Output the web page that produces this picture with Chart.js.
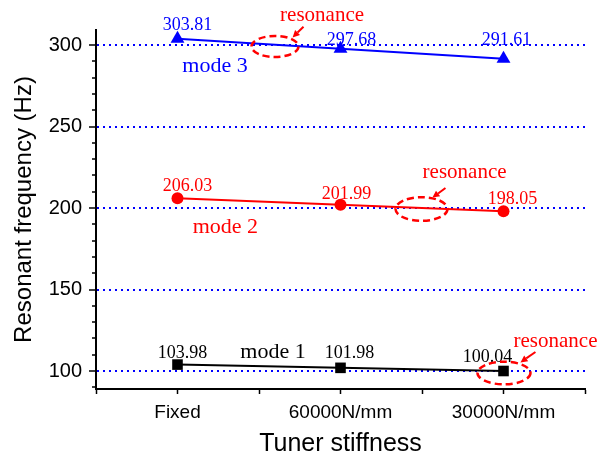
<!DOCTYPE html>
<html><head><meta charset="utf-8">
<script src="https://cdn.jsdelivr.net/npm/chart.js@4/dist/chart.umd.min.js"></script>
<style>html,body{margin:0;padding:0;background:#fff}#wrap{width:604px;height:457px;position:relative}</style>
</head><body><div id="wrap"><canvas id="c"></canvas></div>
<script>
// ---- data ----
const categories = ['Fixed', '60000N/mm', '30000N/mm'];
const mode1 = [103.98, 101.98, 100.04];
const mode2 = [206.03, 201.99, 198.05];
const mode3 = [303.81, 297.68, 291.61];
const yTickLabels = [100, 150, 200, 250, 300];
const yMinorTicks = [90, 110, 120, 130, 140, 160, 170, 180, 190, 210, 220, 230, 240, 260, 270, 280, 290];
const seriesNames = ['mode 1', 'mode 2', 'mode 3'];

// ---- label placement (pixel nudges, kept separate from data) ----
const labelDx1 = [5, 9, -16],  labelLift1 = [6.5, 10, 9];
const labelDx2 = [10, 6, 9],   labelLift2 = [7, 6, 7];
const labelDx3 = [10, 11, 3],  labelLift3 = [9, 4, 14];

// mode name notes, in data coordinates
const modeNoteX = [0.586, 0.294, 0.23];
const modeNoteY = [107.8, 184.7, 283.6];

// resonance notes, in data coordinates
const resText = [[0.887, 314.7], [1.761, 218.4], [2.319, 114.9]];
const resEllipse = [[0.598, 299.1, 23.5, 10.5], [1.497, 199.4, 26, 11.8], [2.003, 98.8, 26.5, 11.3]];
const resArrow = [[0.773, 311.2, 0.706, 304.6], [1.644, 212.3, 1.564, 206.4], [2.196, 111.7, 2.104, 105.3]];

const colors = ['#000000', '#ff0000', '#0000ff'];
const styles = ['rect', 'circle', 'triangle'];
const radii = [7.5, 6, 8];

const toPts = arr => arr.map((v, i) => ({x: i, y: v}));
const allSeries = [mode1, mode2, mode3];
const datasets = allSeries.map((arr, k) => ({
  label: seriesNames[k],
  data: toPts(arr),
  borderColor: colors[k],
  backgroundColor: colors[k],
  borderWidth: 2,
  pointStyle: styles[k],
  pointRadius: radii[k],
  pointHoverRadius: radii[k],
  pointBorderWidth: 0,
  pointBackgroundColor: colors[k],
  tension: 0,
  clip: false
}));

const labelDx = [labelDx1, labelDx2, labelDx3];
const labelLift = [labelLift1, labelLift2, labelLift3];

const notesPlugin = {
  id: 'notes',
  afterDatasetsDraw(chart) {
    const {ctx, scales: {x, y}} = chart;
    ctx.save();
    ctx.textAlign = 'center';
    ctx.textBaseline = 'alphabetic';
    // value labels
    ctx.font = '18px "Liberation Serif", "Times New Roman", serif';
    allSeries.forEach((arr, k) => {
      ctx.fillStyle = colors[k];
      arr.forEach((v, i) => {
        ctx.fillText(v.toFixed(2), x.getPixelForValue(i) + labelDx[k][i], y.getPixelForValue(v) - labelLift[k][i]);
      });
    });
    // mode names
    ctx.font = '22px "Liberation Serif", "Times New Roman", serif';
    seriesNames.forEach((n, k) => {
      ctx.fillStyle = colors[k];
      ctx.fillText(n, x.getPixelForValue(modeNoteX[k]), y.getPixelForValue(modeNoteY[k]));
    });
    // resonance notes
    ctx.font = '21px "Liberation Serif", "Times New Roman", serif';
    ctx.fillStyle = '#ff0000';
    ctx.strokeStyle = '#ff0000';
    resText.forEach(t => ctx.fillText('resonance', x.getPixelForValue(t[0]), y.getPixelForValue(t[1])));
    ctx.lineWidth = 2.5;
    ctx.setLineDash([7, 4]);
    resEllipse.forEach(e => {
      ctx.beginPath();
      ctx.ellipse(x.getPixelForValue(e[0]), y.getPixelForValue(e[1]), e[2], e[3], 0, 0, Math.PI * 2);
      ctx.stroke();
    });
    ctx.setLineDash([]);
    ctx.lineWidth = 2;
    resArrow.forEach(a => {
      const x0 = x.getPixelForValue(a[0]), y0 = y.getPixelForValue(a[1]);
      const x1 = x.getPixelForValue(a[2]), y1 = y.getPixelForValue(a[3]);
      const ang = Math.atan2(y1 - y0, x1 - x0);
      const hl = 7, hw = 3.5;
      const bx = x1 - Math.cos(ang) * hl, by = y1 - Math.sin(ang) * hl;
      ctx.beginPath(); ctx.moveTo(x0, y0); ctx.lineTo(bx, by); ctx.stroke();
      ctx.beginPath();
      ctx.moveTo(x1, y1);
      ctx.lineTo(bx - Math.sin(ang) * hw, by + Math.cos(ang) * hw);
      ctx.lineTo(bx + Math.sin(ang) * hw, by - Math.cos(ang) * hw);
      ctx.closePath(); ctx.fill();
    });
    ctx.restore();
  }
};

const isMajor = v => yTickLabels.some(t => Math.abs(t - v) < 1e-6);

new Chart(document.getElementById('c'), {
  type: 'line',
  data: {datasets},
  options: {
    responsive: true,
    maintainAspectRatio: false,
    animation: false,
    layout: {padding: {top: 30, right: 19, left: 0, bottom: 0}},
    plugins: {legend: {display: false}, tooltip: {enabled: false}},
    scales: {
      x: {
        type: 'linear',
        min: -0.5, max: 2.5,
        afterFit: s => { s.height = 68; },
        afterBuildTicks: s => {
          const t = [];
          for (let v = -0.5; v <= 2.5 + 1e-9; v += 0.5) t.push({value: v});
          s.ticks = t;
        },
        ticks: {
          autoSkip: false, maxRotation: 0, padding: 7, color: '#000',
          font: {family: '"Liberation Sans", Arial, sans-serif', size: 19},
          callback: v => (Math.abs(v - Math.round(v)) < 1e-6 && categories[Math.round(v)] !== undefined) ? categories[Math.round(v)] : ''
        },
        grid: {drawOnChartArea: false, drawTicks: true, tickLength: 5, tickColor: '#000', tickWidth: 1.5},
        border: {display: true, color: '#000', width: 2},
        title: {display: true, text: 'Tuner stiffness', color: '#000',
          font: {family: '"Liberation Sans", Arial, sans-serif', size: 25, lineHeight: 1}, padding: {top: 0, bottom: 0}}
      },
      y: {
        type: 'linear',
        min: 89, max: 309.2,
        afterFit: s => { s.width = 96; },
        afterBuildTicks: s => {
          s.ticks = yMinorTicks.concat(yTickLabels).sort((a, b) => a - b).map(v => ({value: v}));
        },
        ticks: {
          stepSize: 10, autoSkip: false, includeBounds: false, padding: 7, color: '#000',
          font: {family: '"Liberation Sans", Arial, sans-serif', size: 20},
          callback: v => isMajor(v) ? String(Math.round(v)) : ''
        },
        grid: {
          drawOnChartArea: true, drawTicks: true, tickLength: 7,
          color: c => (c.tick && isMajor(c.tick.value)) ? '#0000ff' : 'rgba(0,0,0,0)',
          lineWidth: 2,
          tickColor: '#000', tickWidth: 1.5,
          tickBorderDash: c => (c.tick && isMajor(c.tick.value)) ? [] : [0, 3, 4, 100]
        },
        border: {display: true, color: '#000', width: 2, dash: [2, 4]},
        title: {display: true, text: 'Resonant frequency (Hz)', color: '#000',
          font: {family: '"Liberation Sans", Arial, sans-serif', size: 24}, padding: {top: 10, bottom: 0}}
      }
    }
  },
  plugins: [notesPlugin]
});
</script></body></html>
